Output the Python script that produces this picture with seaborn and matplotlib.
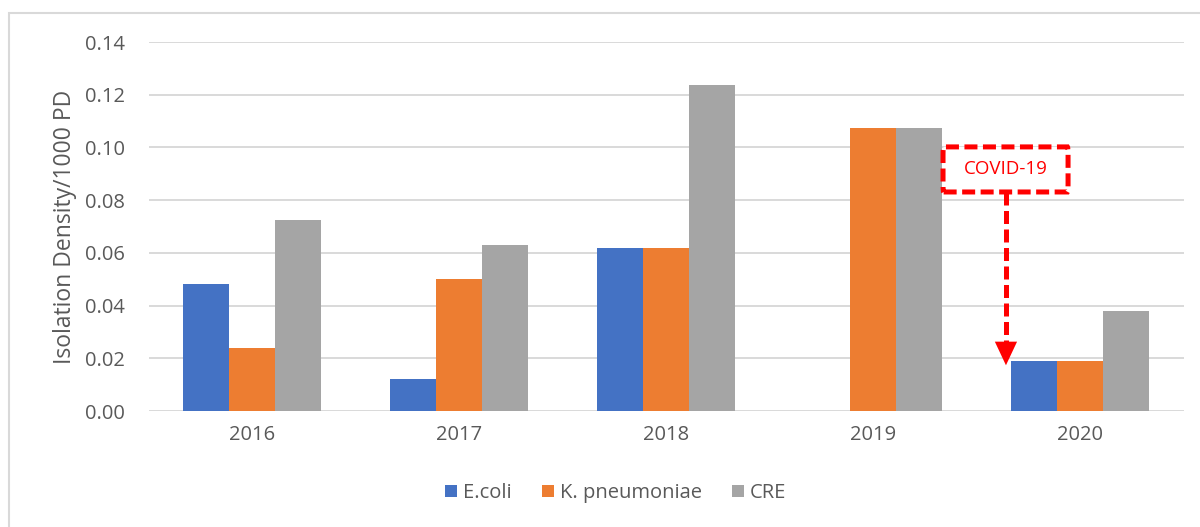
import matplotlib
matplotlib.use("Agg")
import matplotlib.pyplot as plt
import seaborn as sns
import pandas as pd
from matplotlib.patches import Rectangle, FancyBboxPatch

years = ["2016", "2017", "2018", "2019", "2020"]
series = ["E.coli", "K. pneumoniae", "CRE"]
ecoli = [0.048, 0.012, 0.062, 0.0, 0.019]
kpneu = [0.024, 0.050, 0.062, 0.1075, 0.019]
cre = [0.0725, 0.063, 0.1235, 0.1075, 0.038]
yticks = [0.00, 0.02, 0.04, 0.06, 0.08, 0.10, 0.12, 0.14]
colors = ["#4472C4", "#ED7D31", "#A5A5A5"]
ylabel = "Isolation Density/1000 PD"
note = "COVID-19"

rows = []
for name, vals in zip(series, [ecoli, kpneu, cre]):
    for y, v in zip(years, vals):
        rows.append({"Year": y, "Series": name, "Value": v})
df = pd.DataFrame(rows)

sns.set_theme(style="white")
plt.rcParams["font.family"] = ["Open Sans", "DejaVu Sans"]
text_color = "#595959"
grid_color = "#D9D9D9"

fig = plt.figure(figsize=(12, 5.27), dpi=100)
ax = fig.add_axes([0.1238, 0.2201, 0.8625, 0.7002])

sns.barplot(data=df, x="Year", y="Value", hue="Series", palette=colors,
            width=0.667, gap=0, ax=ax, linewidth=0, saturation=1,
            errorbar=None, zorder=3)

ax.set_ylim(0, 0.14)
ax.set_xlim(-0.5, len(years) - 0.5)
ax.set_yticks(yticks)
ax.set_yticklabels([f"{t:.2f}" for t in yticks])
for t in yticks:
    ax.axhline(t, color=grid_color, lw=1.4, zorder=1)
for s in ax.spines.values():
    s.set_visible(False)
ax.tick_params(axis="both", length=0, colors=text_color, labelsize=14.5)
ax.tick_params(axis="y", pad=17)
ax.tick_params(axis="x", pad=10)
ax.set_xlabel("")
ax.set_ylabel(ylabel, color=text_color, fontsize=16.5, labelpad=6)

leg = ax.legend(loc="center", bbox_to_anchor=(0.513, 0.0645), bbox_transform=fig.transFigure,
                ncol=3, frameon=False, fontsize=14.5, handlelength=0.6, handleheight=0.6,
                handletextpad=0.3, columnspacing=1.5)
for txt in leg.get_texts():
    txt.set_color(text_color)

# COVID-19 annotation box
red = "#FF0000"
bx0, bx1, by0, by1 = 3.338, 3.942, 0.0831, 0.1002
box = FancyBboxPatch((bx0, by0), bx1 - bx0, by1 - by0,
                     boxstyle="round,pad=0,rounding_size=0.003",
                     fill=True, facecolor="white", edgecolor=red, lw=3.6,
                     linestyle=(0, (2.6, 1.1)), zorder=5, mutation_aspect=1)
ax.add_patch(box)
ax.text((bx0 + bx1) / 2, (by0 + by1) / 2, note, color=red, fontsize=13.5,
        ha="center", va="center", zorder=6)

ax_x = 3.642
tip = 0.0163
head = 0.0065
ax.plot([ax_x, ax_x], [by0, tip + head * 0.6], color=red, lw=3.6,
        linestyle=(0, (2.6, 1.1)), zorder=5, solid_capstyle="butt",
        dash_capstyle="butt")
ax.annotate("", xy=(ax_x, tip), xytext=(ax_x, tip + head),
            arrowprops=dict(arrowstyle="-|>,head_width=0.4,head_length=0.85",
                            color=red, lw=0, mutation_scale=20),
            zorder=6)

# chart-area border
fig.patches.append(Rectangle((9 / 1200, -0.05), 1.2, 1 - 13 / 527 + 0.05,
                             transform=fig.transFigure, fill=False,
                             edgecolor=grid_color, lw=1.5, zorder=0))

fig.savefig("out.png", dpi=100)
